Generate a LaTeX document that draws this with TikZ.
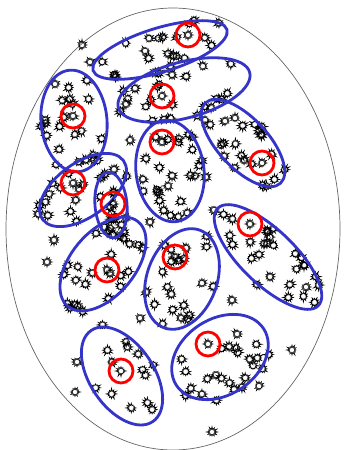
\documentclass[tikz,border=0pt]{standalone}
\usetikzlibrary{shapes.symbols}
\definecolor{clublue}{RGB}{52,52,200}
\begin{document}
\begin{tikzpicture}[
  x=0.03cm, y=-0.03cm,
  hull/.style={draw=black!60, line width=0.6pt},
  clu/.style={draw=clublue, line width=2.4pt},
  ctr/.style={circle, draw=red, line width=2.4pt, minimum size=20.5pt, inner sep=0pt},
  pt/.style={starburst, starburst points=12, starburst point height=2.8pt,
             draw=black, line width=0.55pt, minimum size=10pt, inner sep=0pt}
]
\useasboundingbox (0,0) rectangle (344,450);

%% outer hull
\draw[hull] (173,229) ellipse [x radius=167, y radius=221];

%% samples of each cluster
\foreach \k/\cx/\cy/\a/\b/\ang/\n in {
   1/160/50/70/22/17/20,   2/184/90/68/28/15/24,
   3/74/121/51/33/95/20,   4/170/171/51/34/97/27,
   5/243/143/55/25/-47/22, 6/83/190/50/27/36/20,
   7/111/205/33/16/95/10,  8/268/257/70/27/-44/27,
   9/182/279/52/35/70/20,  10/103/264/55/32/50/26,
   11/220/357/52/38/33/24, 12/122/376/55/32/-56/14}{
  \begin{scope}[shift={(\cx,\cy)}, rotate=\ang]
    \foreach \i in {1,...,\n}{
      \pgfmathsetmacro\rr{1.05*sqrt(frac(abs(sin(\i*91.7+\k*33.1))*73.9))}
      \pgfmathsetmacro\ww{360*frac(abs(sin(\i*53.3+\k*17.9))*61.7)}
      \pgfmathtruncatemacro\sd{\k*40+\i}
      \node[pt, random starburst=\sd] (m\k-\i) at ({\a*\rr*cos(\ww)},{\b*\rr*sin(\ww)}) {};
    }
  \end{scope}
}

%% stray samples between the clusters
\foreach \x/\y [count=\j] in {47/262, 75/392, 77/362, 212/432, 259/386, 306/287,
   130/140, 126/104, 90/62, 82/45, 55/84, 205/120, 140/318, 181/318,
   232/300, 214/210, 235/118, 120/236, 150/222, 54/240, 292/350}{
  \node[pt, random starburst=\j] (s\j) at (\x,\y) {};
}

%% cluster outlines
\foreach \cx/\cy/\a/\b/\ang in {
   160/50/70/22/17,   184/90/68/28/15,
   74/121/51/33/95,   170/171/51/34/97,
   243/143/55/25/-47, 83/190/50/27/36,
   111/205/33/16/95,  268/257/70/27/-44,
   182/279/52/35/70,  103/264/55/32/50,
   220/357/52/38/33,  122/376/55/32/-56}{
  \draw[clu, rotate around={\ang:(\cx,\cy)}] (\cx,\cy) ellipse [x radius=\a, y radius=\b];
}

%% cluster centres
\foreach \x/\y [count=\k] in {188/35, 162/96, 73/116, 162/142, 262/163, 73/183,
   113/204, 250/224, 175/257, 107/270, 208/344, 121/371}{
  \node[pt, random starburst=\k] (mc\k) at (\x,\y) {};
  \node[ctr] (c\k) at (\x,\y) {};
}

\end{tikzpicture}
\end{document}
